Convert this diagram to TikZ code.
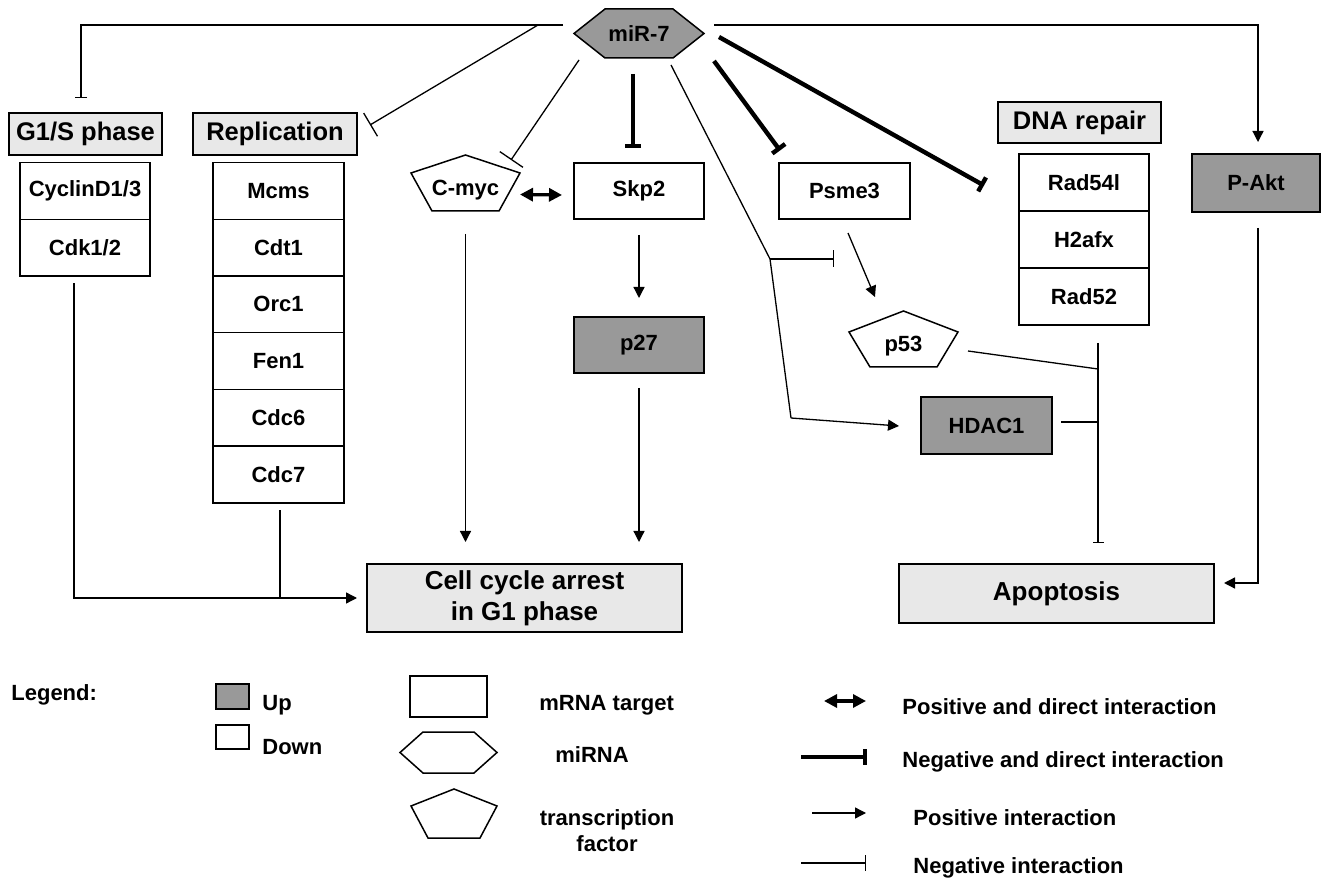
\documentclass[tikz,border=0pt]{standalone}
\usepackage{fontspec}
\setmainfont{Liberation Sans}
\usetikzlibrary{arrows.meta,positioning,calc,backgrounds}
\definecolor{upgray}{RGB}{153,153,153}
\definecolor{hdrgray}{RGB}{232,232,232}
\newcommand{\hexshape}[3]{\draw[#1] (#2.west) -- ([xshift=#3]#2.north west) -- ([xshift=-#3]#2.north east) -- (#2.east) -- ([xshift=-#3]#2.south east) -- ([xshift=#3]#2.south west) -- cycle;}
\newcommand{\pentshape}[4]{\draw[#1] (#2.north) -- ([yshift=-#3]#2.north east) -- ([xshift=-#4]#2.south east) -- ([xshift=#4]#2.south west) -- ([yshift=-#3]#2.north west) -- cycle;}
\tikzset{
  box/.style={draw, line width=0.75pt, inner sep=0pt, outer sep=0pt, align=center, font=\bfseries\fontsize{11}{13}\selectfont},
  cell/.style={box, minimum width=65pt, minimum height=28.35pt},
  upreg/.style={fill=upgray},
  header/.style={box, fill=hdrgray, minimum height=21pt, font=\bfseries\fontsize{12.75}{15}\selectfont},
  outcome/.style={box, fill=hdrgray, minimum width=157.5pt, font=\bfseries\fontsize{13}{15.5}\selectfont},
  tf/.style={inner sep=0pt, outer sep=0pt, minimum width=54.5pt, text height=20.5pt, text depth=7.5pt, font=\bfseries\fontsize{11}{13}\selectfont},
  thinlink/.style={line width=0.65pt},
  actarr/.style={thinlink, -{Triangle[length=5.5pt,width=5.5pt]}},
  inhbar/.style={thinlink, -{Bar[width=#1]}}, inhbar/.default=8pt,
  dirinh/.style={line width=2.2pt, -{Bar[width=8pt]}},
  diract/.style={line width=1.6pt, {Triangle[length=6.5pt,width=6.5pt]}-{Triangle[length=6.5pt,width=6.5pt]}},
  lbl/.style={anchor=west, inner sep=0pt, font=\bfseries\fontsize{11}{13}\selectfont},
}
\begin{document}
\begin{tikzpicture}[x=0.5pt,y=-0.5pt]
        \useasboundingbox (0,0) rectangle (1322,881);
        %% miR-7
        \node[inner sep=0pt, outer sep=0pt, minimum width=65pt, minimum height=24.5pt, font=\bfseries\fontsize{11}{13}\selectfont] (mir) at (639,33.5) {miR-7};
        \begin{scope}[on background layer]
        \hexshape{line width=0.75pt, fill=upgray}{mir}{15.5pt}
        \end{scope}
        %% G1/S phase
        \node[header, minimum width=76.5pt] (g1s) at (85.5,134) {G1/S phase};
        \node[cell] (cyc) at (85,191) {CyclinD1/3};
        \node[cell, below=0pt of cyc] (cdk) {Cdk1/2};
        %% Replication
        \node[header, minimum width=82pt] (rep) at (275,134) {Replication};
        \node[cell, minimum width=65.5pt] (mcms) at (278.5,191) {Mcms};
        \node[cell, minimum width=65.5pt, below=0pt of mcms] (cdt1) {Cdt1};
        \node[cell, minimum width=65.5pt, below=0pt of cdt1] (orc1) {Orc1};
        \node[cell, minimum width=65.5pt, below=0pt of orc1] (fen1) {Fen1};
        \node[cell, minimum width=65.5pt, below=0pt of fen1] (cdc6) {Cdc6};
        \node[cell, minimum width=65.5pt, below=0pt of cdc6] (cdc7) {Cdc7};
        %% C-myc, Skp2, p27
        \node[tf] (cmyc) at (465.5,183) {C-myc};
        \pentshape{line width=0.75pt}{cmyc}{9pt}{10.5pt}
        \node[cell, minimum height=28pt] (skp2) at (639,191) {Skp2};
        \node[cell, upreg, minimum height=28pt] (p27) at (639,345) {p27};
        %% Psme3, p53, HDAC1
        \node[cell, minimum width=65.5pt, minimum height=28pt] (psme3) at (844.5,191) {Psme3};
        \node[tf] (p53) at (903.5,339) {p53};
        \pentshape{line width=0.75pt}{p53}{10.5pt}{10.5pt}
        \node[cell, upreg, minimum width=65.5pt, minimum height=28.5pt] (hdac) at (986.5,425.5) {HDAC1};
        %% DNA repair
        \node[header, minimum width=81.5pt, minimum height=20.5pt] (dna) at (1079.5,122.5) {DNA repair};
        \node[cell, minimum height=28.5pt] (rad54) at (1084,182.5) {Rad54l};
        \node[cell, minimum height=28.5pt, below=0pt of rad54] (h2afx) {H2afx};
        \node[cell, minimum height=28.5pt, below=0pt of h2afx] (rad52) {Rad52};
        %% P-Akt
        \node[cell, upreg, minimum width=64pt, minimum height=29pt] (pakt) at (1256,183) {P-Akt};
        %% Outcomes
        \node[outcome, minimum height=34pt] (cell) at (524.5,598) {Cell cycle arrest\\in G1 phase};
        \node[outcome, minimum height=29.5pt] (apop) at (1056.5,593.5) {Apoptosis};
        %% miR-7 links
        \draw[inhbar=6pt] ($(mir.west)+(-11,-8.5)$) -| ($(g1s.north)+(-4.5,-15)$);
        \draw[inhbar=13.5pt] ($(mir.west)+(-36,-8.5)$) -- ($(rep.north east)+(13,12)$);
        \draw[inhbar=14pt] ($(mir.south west)+(5,2)$) -- ($(cmyc.north east)+(-9,5)$);
        \draw[dirinh] ($(mir.south)+(-6,16)$) -- ($(skp2.north)+(-6,-15)$);
        \draw[dirinh] ($(mir.south east)+(10,3)$) -- ($(psme3.north west)+(1,-12.5)$);
        \draw[dirinh] ($(mir.east)+(15,3.5)$) -- ($(rad54.west)+(-35,3)$);
        \draw[actarr] ($(mir.east)+(10,-8.5)$) -| ($(pakt.north)+(2,-12)$);
        \coordinate (br) at (770,259);
        \coordinate (bend) at (791,418);
        \draw[thinlink] ($(mir.south east)+(-33,7)$) -- (br) -- (bend);
        \draw[actarr] (bend) -- ($(hdac.west)+(-22,0.5)$);
        \draw[inhbar=8.5pt] (br) -- ($(br)+(64,0)$);
        %% Cell cycle links
        \draw[diract] ($(cmyc.east)+(0,11.5)$) -- ($(skp2.west)+(-12,4)$);
        \draw[actarr] ($(cmyc.south)+(0,23)$) -- ($(cmyc.south |- cell.north)+(0,-22)$);
        \draw[actarr] ($(skp2.south)+(0,16)$) -- ($(p27.north)+(0,-19)$);
        \draw[actarr] ($(p27.south)+(0,15)$) -- ($(p27.south |- cell.north)+(0,-22)$);
        \draw[actarr] ($(cdk.south)+(-11,7)$) |- ($(cell.west)+(-10,0)$);
        \coordinate (r0) at ($(cdc7.south)+(1.5,7.5)$);
        \draw[thinlink] (r0) -- (r0 |- cell.west);
        %% Apoptosis links
        \draw[actarr] ($(psme3.south)+(3.5,14)$) -- ($(p53.north)+(-28.5,-14)$);
        \coordinate (ap) at ($(rad52.south)+(14,18)$);
        \draw[inhbar=5.5pt] (ap) -- ($(ap |- apop.north)+(0,-21)$);
        \draw[thinlink] ($(p53.east)+(10,12)$) -- ($(ap)+(0,26)$);
        \draw[thinlink] ($(hdac.east)+(9,-3.5)$) -- ($(hdac.east -| ap)+(0,-3.5)$);
        \draw[actarr] ($(pakt.south)+(2,16)$) |- ($(apop.east)+(10,-10.5)$);
        %% Legend
        \node[lbl] (legend) at (11,695) {Legend:};
        \node[box, upreg, minimum width=16.5pt, minimum height=12.5pt] (lup) at (232.5,696.5) {};
        \node[lbl] (tup) at (262,705) {Up};
        \node[box, minimum width=16.5pt, minimum height=12pt] (ldown) at (232.5,737) {};
        \node[lbl] (tdown) at (262,747) {Down};
        \node[box, minimum width=38.5pt, minimum height=20.5pt] (lmrna) at (448.5,696.5) {};
        \node[lbl] (tmrna) at (539,705) {mRNA target};
        \node[inner sep=0pt, outer sep=0pt, minimum width=48.5pt, minimum height=20.5pt] (lmir) at (448.5,752.5) {};
        \hexshape{line width=0.75pt}{lmir}{11.5pt}
        \node[lbl] (tmir) at (555,755) {miRNA};
        \node[inner sep=0pt, outer sep=0pt, minimum width=43pt, minimum height=24.5pt] (ltf) at (454,813.5) {};
        \pentshape{line width=0.75pt}{ltf}{8.5pt}{8.5pt}
        \node[lbl, anchor=center, align=center] (ttf) at (607,831) {transcription\\factor};
        \node[lbl] (tpd) at (902,707) {Positive and direct interaction};
        \node[lbl] (tnd) at (902,762) {Negative and direct interaction};
        \node[lbl] (tpi) at (913,818) {Positive interaction};
        \node[lbl] (tni) at (913,868) {Negative interaction};
        \draw[diract] ($(tpd.west)+(-78,-6)$) -- ($(tpd.west)+(-36,-6)$);
        \draw[dirinh] ($(tnd.west)+(-101,-5)$) -- ($(tnd.west)+(-35,-5)$);
        \draw[actarr] ($(tpi.west)+(-101,-5)$) -- ($(tpi.west)+(-47,-5)$);
        \draw[inhbar] ($(tni.west)+(-112,-5)$) -- ($(tni.west)+(-47,-5)$);
    \end{tikzpicture}
\end{document}
